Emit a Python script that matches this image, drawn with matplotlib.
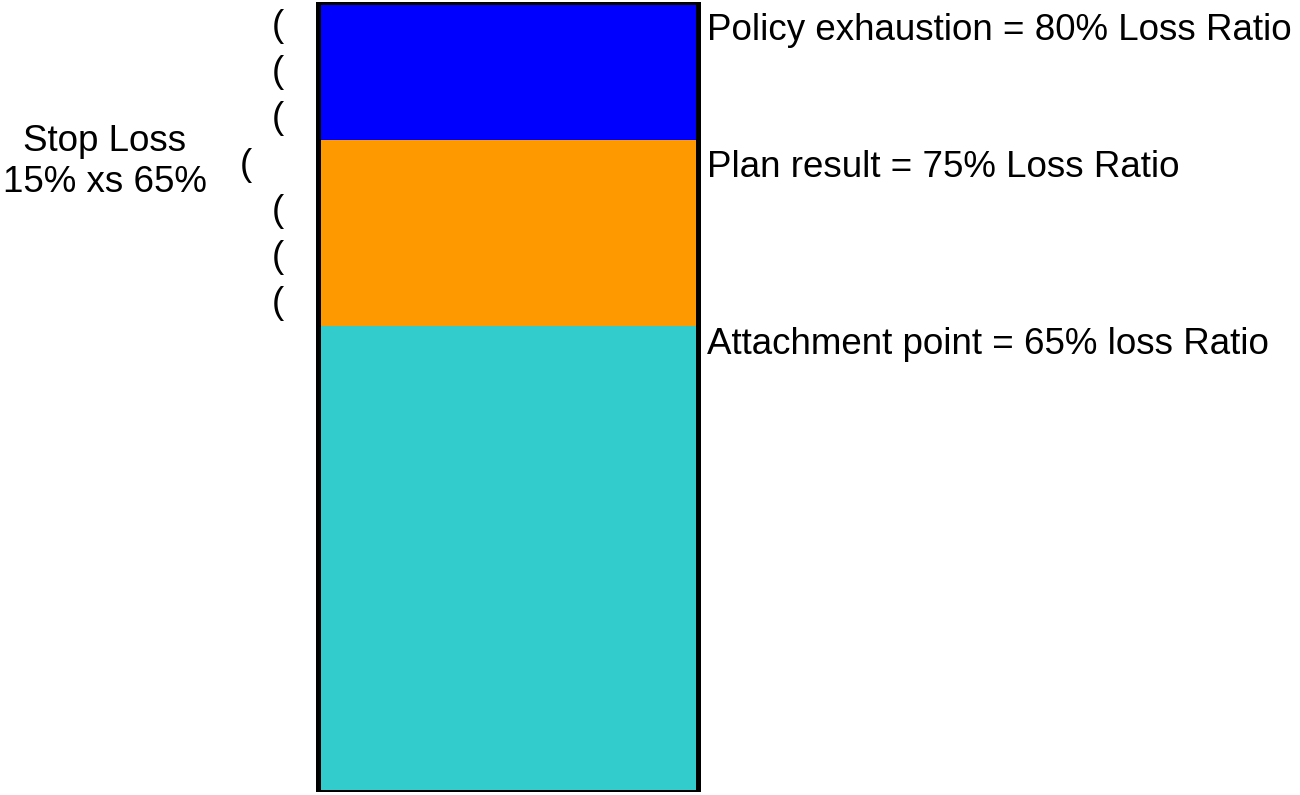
import numpy as np
import matplotlib.pyplot as plt

plt.rcParams['font.family'] = ['Liberation Sans', 'DejaVu Sans']

# Layers of the stop loss tower, bottom to top (schematic heights as drawn)
layers = ['Retention', 'Plan result', 'Policy exhaustion']
heights = [465.5, 186.0, 138.5]
colors = ['#33CCCC', '#FF9900', '#0000FF']

labels = ['Attachment point = 65% loss Ratio',
          'Plan result = 75% Loss Ratio',
          'Policy exhaustion = 80% Loss Ratio']
label_tops = [0, 1, 2]          # which layer's lower edge each label sits under
label_drop = [18.5, 27.5, 29]   # distance below that edge

stop_loss_text = 'Stop Loss\n15% xs 65%'

fig = plt.figure(figsize=(13, 7.95), dpi=100)
ax = fig.add_axes([0, 0.0038, 1, 0.9943])
total = sum(heights)
ax.set_xlim(0, 1300)
ax.set_ylim(0, total)
ax.axis('off')

bar_x, bar_w = 508, 380
bottoms = np.concatenate([[0], np.cumsum(heights)[:-1]])
ax.bar(bar_x, heights, width=bar_w, bottom=bottoms, color=colors, linewidth=0)
# thick outline round the whole tower
ax.bar(bar_x, total, width=bar_w, bottom=0, facecolor='none',
       edgecolor='black', linewidth=3.6)

fs = 26.5
tops = np.cumsum(heights)
for lab, i, d in zip(labels, label_tops, label_drop):
    y = tops[i] - d
    ax.text(bar_x + bar_w / 2 + 9, y, lab, fontsize=fs, va='center', ha='left')

# brace made of parentheses, the middle one pushed out
n_par = 7
par_y = np.linspace(total - 25, tops[0] + 22.5, n_par)
for k, y in enumerate(par_y):
    x = 246 if k == n_par // 2 else 278
    ax.text(x, y, '(', fontsize=fs, va='center', ha='center')

ax.text(105, np.mean(par_y) + 3, stop_loss_text, fontsize=fs,
        ha='center', va='center', linespacing=1.25)

fig.savefig('out.png', dpi=100)
